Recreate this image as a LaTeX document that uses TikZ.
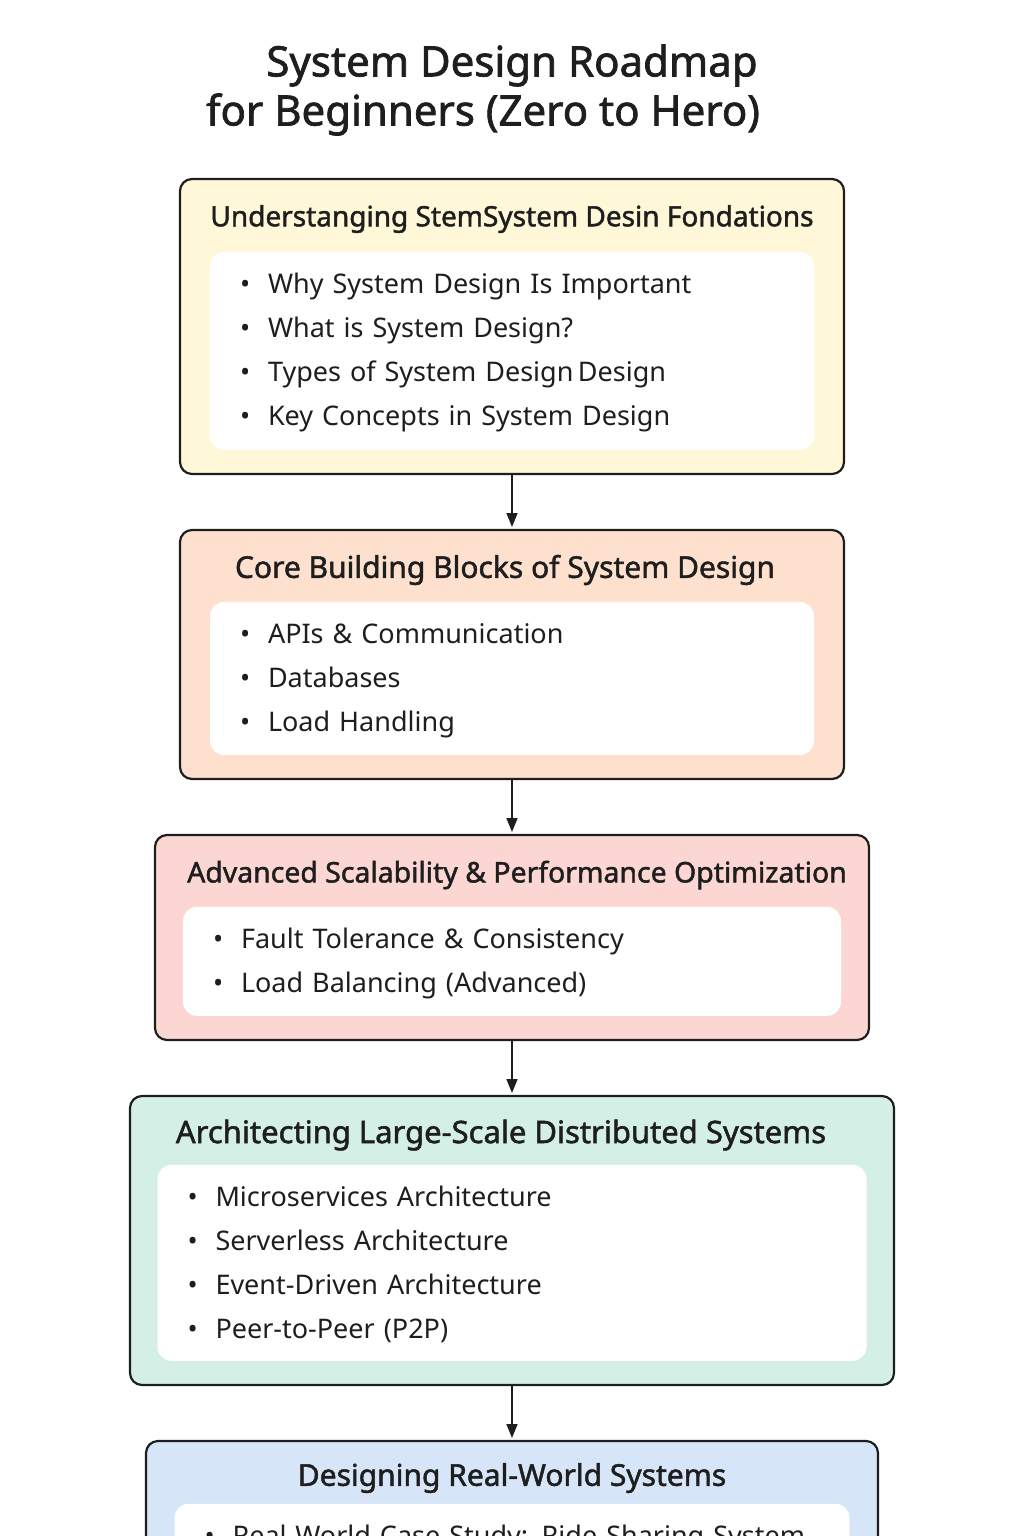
\documentclass[tikz,border=0pt]{standalone}
\usepackage{fontspec}
\setmainfont{Noto Sans}
\newfontfamily\headfont{Noto Sans}[FakeBold=1.6]
\usetikzlibrary{arrows.meta,positioning}
\definecolor{ink}{HTML}{1E1E1E}
\definecolor{bgyellow}{HTML}{FEF8D9}
\definecolor{bgpeach}{HTML}{FDE1CE}
\definecolor{bgpink}{HTML}{FCD6D3}
\definecolor{bgmint}{HTML}{D4F0E6}
\definecolor{bgblue}{HTML}{D6E5F7}
\tikzset{
  title/.style={font=\headfont\fontsize{21}{24}\selectfont},
  stage/.style={draw=ink, line width=1.1pt, rounded corners=6pt, outer sep=0pt, anchor=north},
  heading/.style={font=\headfont\fontsize{#1}{18}\selectfont},
  heading/.default=15,
  list/.style={fill=white, rounded corners=7pt, inner xsep=15pt, inner ysep=0pt, text height=12pt, align=left, anchor=north, font=\fontsize{13.5}{22}\selectfont}
}
\newcommand{\itm}[1]{\makebox[14pt][l]{\textbullet}#1}

\begin{document}
\begin{tikzpicture}[x=0.5pt,y=-0.5pt,->,>={Stealth[length=7pt,width=5.5pt,inset=0pt]},shorten >=1.5pt,line width=0.8pt,color=ink]
\useasboundingbox (0,0) rectangle (1024,1536);
\clip (0,0) rectangle (1024,1536);
\node[title] (title1) at (512,65.5) {System Design Roadmap};
\node[title] (title2) at (483,114.5) {for Beginners (Zero to Hero)};

\node[stage, fill=bgyellow, minimum width=332pt, minimum height=147.5pt] (s1) at (512,179) {};
\node[heading=14] (t1) at ([yshift=-20pt]s1.north) {Understanging StemSystem Desin Fondations};
\node[list, text width=272pt, minimum height=99pt] (l1) [below=36pt of s1.north] {\itm{Why System Design Is Important}\\ \itm{What is System Design?}\\ \itm{Types of System Design\,Design}\\ \itm{Key Concepts in System Design}};

\node[stage, fill=bgpeach, minimum width=332pt, minimum height=124.5pt] (s2) [below=28pt of s1] {};
\node[heading] (t2) at ([xshift=-3.5pt,yshift=-20pt]s2.north) {Core Building Blocks of System Design};
\node[list, text width=272pt, minimum height=76.5pt] (l2) [below=35.5pt of s2.north] {\itm{APIs \& Communication}\\ \itm{Databases}\\ \itm{Load Handling}};

\node[stage, fill=bgpink, minimum width=357pt, minimum height=102.5pt] (s3) [below=28pt of s2] {};
\node[heading=14.2] (t3) at ([xshift=2.5pt,yshift=-20pt]s3.north) {Advanced Scalability \& Performance Optimization};
\node[list, text width=299pt, minimum height=54.5pt] (l3) [below=35.5pt of s3.north] {\itm{Fault Tolerance \& Consistency}\\ \itm{Load Balancing (Advanced)}};

\node[stage, fill=bgmint, minimum width=382pt, minimum height=144.5pt] (s4) [below=28pt of s3] {};
\node[heading=15.5] (t4) at ([xshift=-5.5pt,yshift=-19.5pt]s4.north) {Architecting Large-Scale Distributed Systems};
\node[list, text width=324.5pt, minimum height=98pt] (l4) [below=34pt of s4.north] {\itm{Microservices Architecture}\\ \itm{Serverless Architecture}\\ \itm{Event-Driven Architecture}\\ \itm{Peer-to-Peer (P2P)}};

\node[stage, fill=bgblue, minimum width=366pt, minimum height=150pt] (s5) [below=28pt of s4] {};
\node[heading] (t5) at ([yshift=-18.5pt]s5.north) {Designing Real-World Systems};
\node[list, text width=307.5pt, inner ysep=9pt, text depth=80pt] (l5) [below=31pt of s5.north] {\itm{Real-World Case Study: Ride Sharing System}};

\path (s1) edge (s2)
(s2) edge (s3)
(s3) edge (s4)
(s4) edge (s5);
\end{tikzpicture}
\end{document}
